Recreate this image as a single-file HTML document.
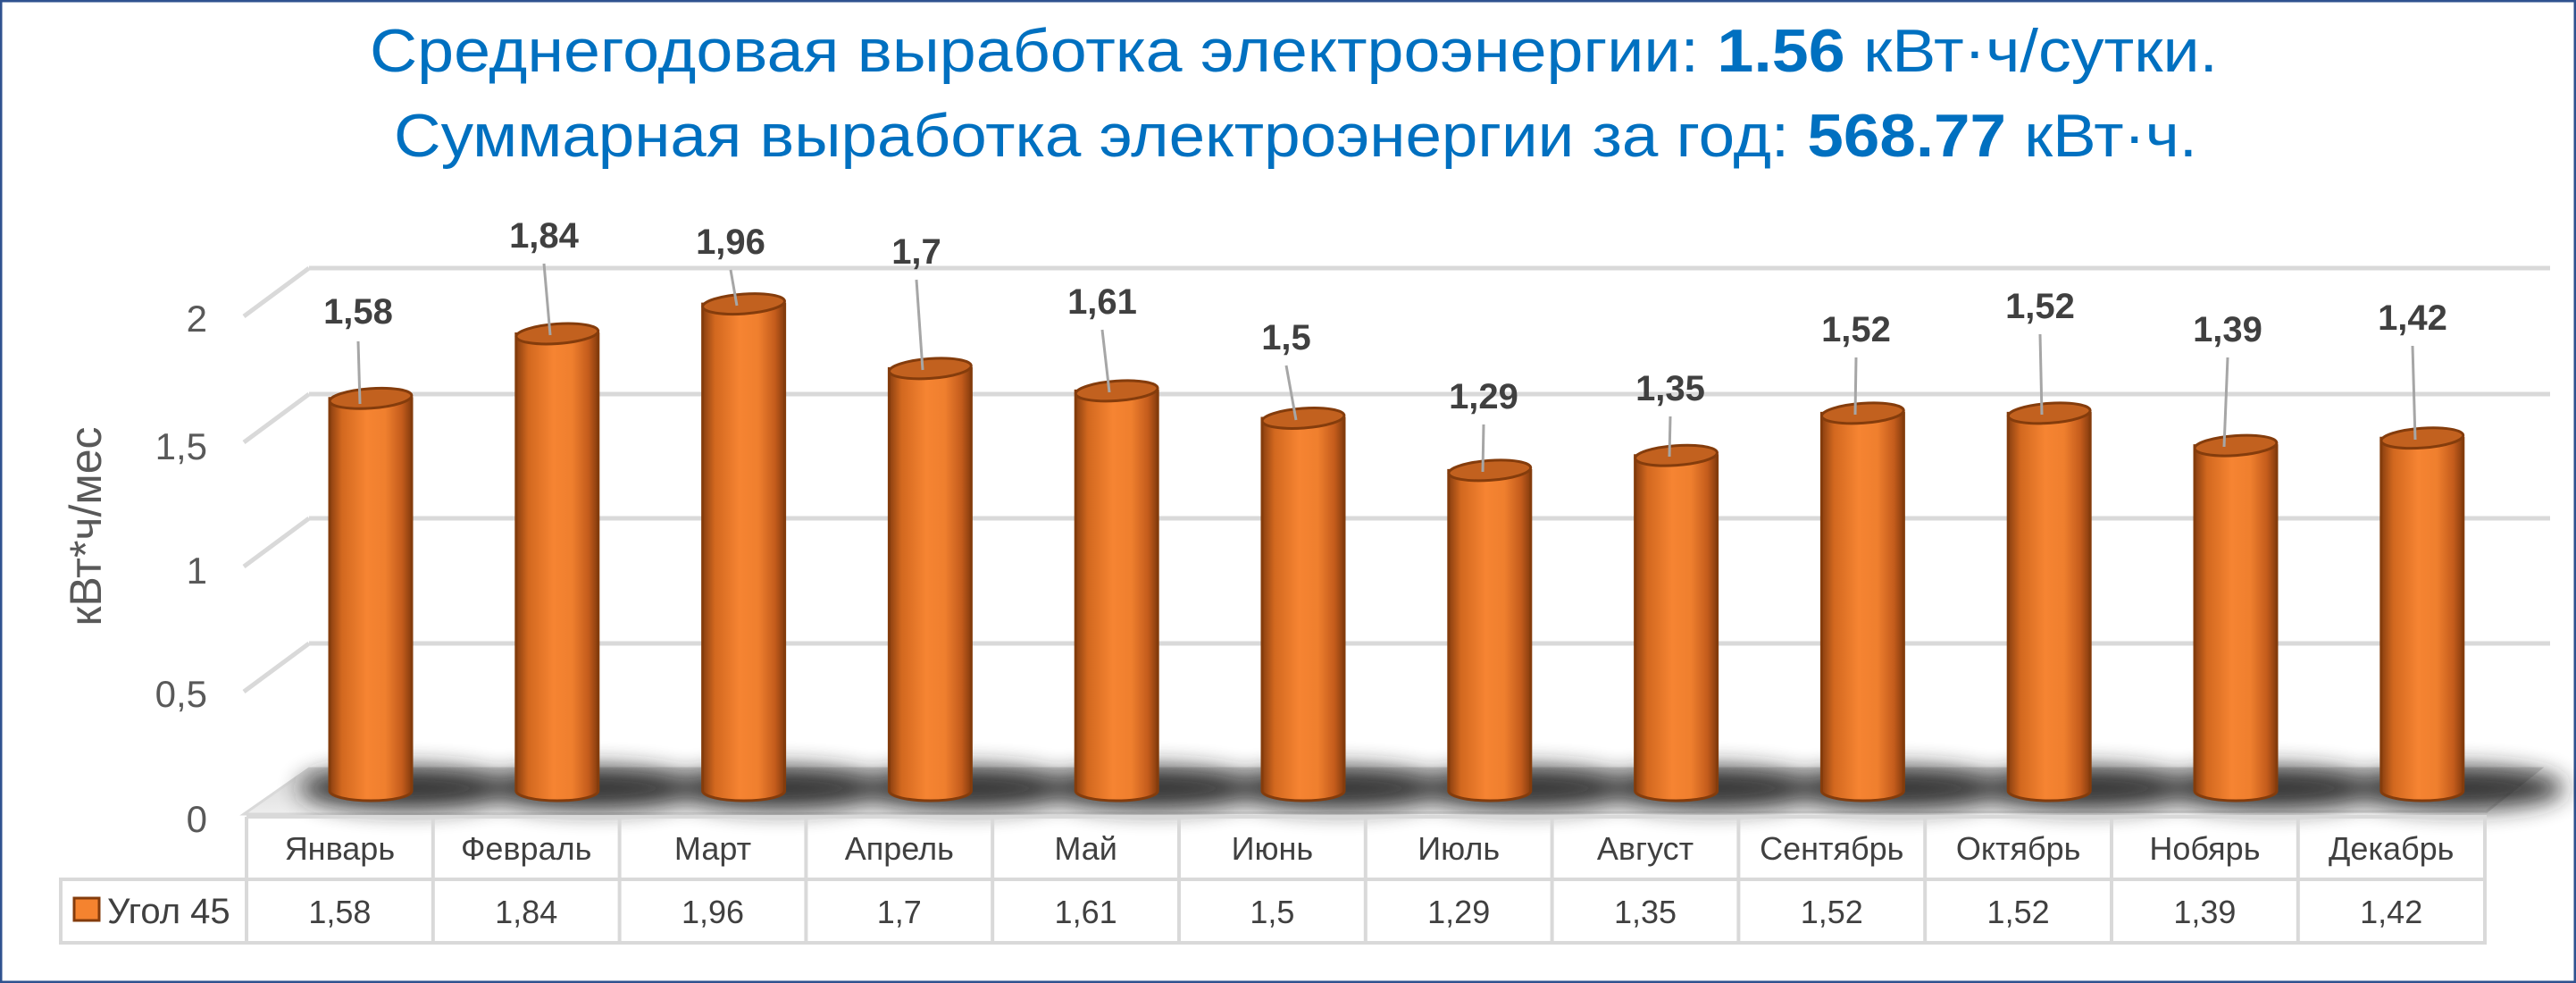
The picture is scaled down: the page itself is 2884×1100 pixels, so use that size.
<!DOCTYPE html>
<html><head><meta charset="utf-8"><style>html,body{margin:0;padding:0;background:#fff}svg{display:block}</style></head>
<body>
<svg width="2884" height="1100" viewBox="0 0 2884 1100" xmlns="http://www.w3.org/2000/svg" font-family="'Liberation Sans', sans-serif">
<defs>
<linearGradient id="bar" x1="0" x2="1" y1="0" y2="0">
<stop offset="0" stop-color="#8a3f10"/><stop offset="0.15" stop-color="#d2681f"/><stop offset="0.45" stop-color="#f68432"/><stop offset="0.68" stop-color="#ef7f2e"/><stop offset="0.88" stop-color="#c45c1c"/><stop offset="1" stop-color="#853c0e"/>
</linearGradient>
<linearGradient id="floor" x1="0" x2="0" y1="0" y2="1"><stop offset="0" stop-color="#d6d6d6"/><stop offset="1" stop-color="#eeeeee"/></linearGradient>
<filter id="blur" x="-50%" y="-100%" width="200%" height="300%"><feGaussianBlur stdDeviation="13"/></filter>
</defs>
<rect x="1" y="1" width="2882" height="1098" fill="#fff" stroke="#2f528f" stroke-width="3"/>
<text x="414" y="80" font-size="68" fill="#0070c0" textLength="2069" lengthAdjust="spacingAndGlyphs">Среднегодовая выработка электроэнергии: <tspan font-weight="bold">1.56</tspan> кВт·ч/сутки.</text>
<text x="441" y="175" font-size="68" fill="#0070c0" textLength="2019" lengthAdjust="spacingAndGlyphs">Суммарная выработка электроэнергии за год: <tspan font-weight="bold">568.77</tspan> кВт·ч.</text>
<g stroke="#d9d9d9" stroke-width="5" fill="none">
<path d="M346 300H2855M273 354L346 300"/>
<path d="M346 441H2855M273 495L346 441"/>
<path d="M346 580H2855M273 634L346 580"/>
<path d="M346 720H2855M273 774L346 720"/>
</g>
<polygon points="273,911 346,860 2844,860 2784,908" fill="url(#floor)" stroke="#d9d9d9" stroke-width="3"/>
<g fill="#595959" font-size="42" text-anchor="end">
<text x="232" y="371">2</text><text x="232" y="514">1,5</text><text x="232" y="653">1</text><text x="232" y="791">0,5</text><text x="232" y="931">0</text>
</g>
<text transform="translate(113,589) rotate(-90)" font-size="50" fill="#595959" text-anchor="middle">кВт*ч/мес</text>

<g fill="#222" opacity="0.9" filter="url(#blur)">
<ellipse cx="455" cy="882" rx="120" ry="24"/><ellipse cx="663.8" cy="882" rx="120" ry="24"/><ellipse cx="872.6" cy="882" rx="120" ry="24"/><ellipse cx="1081.4" cy="882" rx="120" ry="24"/><ellipse cx="1290.2" cy="882" rx="120" ry="24"/><ellipse cx="1499" cy="882" rx="120" ry="24"/><ellipse cx="1707.8" cy="882" rx="120" ry="24"/><ellipse cx="1916.6" cy="882" rx="120" ry="24"/><ellipse cx="2125.4" cy="882" rx="120" ry="24"/><ellipse cx="2334.2" cy="882" rx="120" ry="24"/><ellipse cx="2543" cy="882" rx="120" ry="24"/><ellipse cx="2751.8" cy="882" rx="120" ry="24"/>
</g>

<g stroke="#843c0c" stroke-width="3">
<g transform="translate(415,0)"><path d="M-46 445.8V885A46 11 0 0 0 46 885V445.8Z" fill="url(#bar)"/><ellipse cx="0" cy="445.8" rx="46" ry="11" fill="#c2611f" transform="rotate(-4 0 445.8)"/></g>
<g transform="translate(623.8,0)"><path d="M-46 373.5V885A46 11 0 0 0 46 885V373.5Z" fill="url(#bar)"/><ellipse cx="0" cy="373.5" rx="46" ry="11" fill="#c2611f" transform="rotate(-4 0 373.5)"/></g>
<g transform="translate(832.6,0)"><path d="M-46 340.1V885A46 11 0 0 0 46 885V340.1Z" fill="url(#bar)"/><ellipse cx="0" cy="340.1" rx="46" ry="11" fill="#c2611f" transform="rotate(-4 0 340.1)"/></g>
<g transform="translate(1041.4,0)"><path d="M-46 412.4V885A46 11 0 0 0 46 885V412.4Z" fill="url(#bar)"/><ellipse cx="0" cy="412.4" rx="46" ry="11" fill="#c2611f" transform="rotate(-4 0 412.4)"/></g>
<g transform="translate(1250.2,0)"><path d="M-46 437.4V885A46 11 0 0 0 46 885V437.4Z" fill="url(#bar)"/><ellipse cx="0" cy="437.4" rx="46" ry="11" fill="#c2611f" transform="rotate(-4 0 437.4)"/></g>
<g transform="translate(1459,0)"><path d="M-46 468V885A46 11 0 0 0 46 885V468Z" fill="url(#bar)"/><ellipse cx="0" cy="468" rx="46" ry="11" fill="#c2611f" transform="rotate(-4 0 468)"/></g>
<g transform="translate(1667.8,0)"><path d="M-46 526.4V885A46 11 0 0 0 46 885V526.4Z" fill="url(#bar)"/><ellipse cx="0" cy="526.4" rx="46" ry="11" fill="#c2611f" transform="rotate(-4 0 526.4)"/></g>
<g transform="translate(1876.6,0)"><path d="M-46 509.7V885A46 11 0 0 0 46 885V509.7Z" fill="url(#bar)"/><ellipse cx="0" cy="509.7" rx="46" ry="11" fill="#c2611f" transform="rotate(-4 0 509.7)"/></g>
<g transform="translate(2085.4,0)"><path d="M-46 462.4V885A46 11 0 0 0 46 885V462.4Z" fill="url(#bar)"/><ellipse cx="0" cy="462.4" rx="46" ry="11" fill="#c2611f" transform="rotate(-4 0 462.4)"/></g>
<g transform="translate(2294.2,0)"><path d="M-46 462.4V885A46 11 0 0 0 46 885V462.4Z" fill="url(#bar)"/><ellipse cx="0" cy="462.4" rx="46" ry="11" fill="#c2611f" transform="rotate(-4 0 462.4)"/></g>
<g transform="translate(2503,0)"><path d="M-46 498.6V885A46 11 0 0 0 46 885V498.6Z" fill="url(#bar)"/><ellipse cx="0" cy="498.6" rx="46" ry="11" fill="#c2611f" transform="rotate(-4 0 498.6)"/></g>
<g transform="translate(2711.8,0)"><path d="M-46 490.2V885A46 11 0 0 0 46 885V490.2Z" fill="url(#bar)"/><ellipse cx="0" cy="490.2" rx="46" ry="11" fill="#c2611f" transform="rotate(-4 0 490.2)"/></g>
</g>

<g stroke="#a6a6a6" stroke-width="3">
<line x1="401" y1="382" x2="403" y2="452"/>
<line x1="609" y1="295" x2="616" y2="375"/>
<line x1="818" y1="302" x2="825" y2="342"/>
<line x1="1026" y1="313" x2="1033" y2="414"/>
<line x1="1234" y1="369" x2="1242" y2="439"/>
<line x1="1440" y1="409" x2="1451" y2="470"/>
<line x1="1661" y1="475" x2="1660" y2="528"/>
<line x1="1870" y1="466" x2="1869" y2="511"/>
<line x1="2078" y1="400" x2="2077" y2="464"/>
<line x1="2284" y1="374" x2="2286" y2="464"/>
<line x1="2494" y1="400" x2="2490" y2="500"/>
<line x1="2701" y1="387" x2="2704" y2="492"/>
</g>
<g font-size="40" font-weight="bold" fill="#404040" text-anchor="middle">
<text x="401" y="362">1,58</text><text x="609" y="277">1,84</text><text x="818" y="284">1,96</text><text x="1026" y="295">1,7</text><text x="1234" y="351">1,61</text><text x="1440" y="391">1,5</text><text x="1661" y="457">1,29</text><text x="1870" y="448">1,35</text><text x="2078" y="382">1,52</text><text x="2284" y="356">1,52</text><text x="2494" y="382">1,39</text><text x="2701" y="369">1,42</text>
</g>

<g stroke="#d9d9d9" stroke-width="4" fill="none">
<path d="M276 914H2782V1055H68V984H2782"/>
<path d="M68 984V1055M276 914V1055M484.8 914V1055M693.6 914V1055M902.4 914V1055M1111.2 914V1055M1320 914V1055M1528.8 914V1055M1737.6 914V1055M1946.4 914V1055M2155.2 914V1055M2364 914V1055M2572.8 914V1055"/>
</g>
<g font-size="36" fill="#404040" text-anchor="middle">
<text x="380.4" y="962">Январь</text><text x="589.2" y="962">Февраль</text><text x="798" y="962">Март</text><text x="1006.8" y="962">Апрель</text><text x="1215.6" y="962">Май</text><text x="1424.4" y="962">Июнь</text><text x="1633.2" y="962">Июль</text><text x="1842" y="962">Август</text><text x="2050.8" y="962">Сентябрь</text><text x="2259.6" y="962">Октябрь</text><text x="2468.4" y="962">Нобярь</text><text x="2677.2" y="962">Декабрь</text>
<text x="380.4" y="1033">1,58</text><text x="589.2" y="1033">1,84</text><text x="798" y="1033">1,96</text><text x="1006.8" y="1033">1,7</text><text x="1215.6" y="1033">1,61</text><text x="1424.4" y="1033">1,5</text><text x="1633.2" y="1033">1,29</text><text x="1842" y="1033">1,35</text><text x="2050.8" y="1033">1,52</text><text x="2259.6" y="1033">1,52</text><text x="2468.4" y="1033">1,39</text><text x="2677.2" y="1033">1,42</text>
</g>
<rect x="83" y="1005" width="28" height="25" fill="#f5832f" stroke="#843c0c" stroke-width="3"/>
<text x="120" y="1033" font-size="40" fill="#404040">Угол 45</text>
</svg>
</body></html>
